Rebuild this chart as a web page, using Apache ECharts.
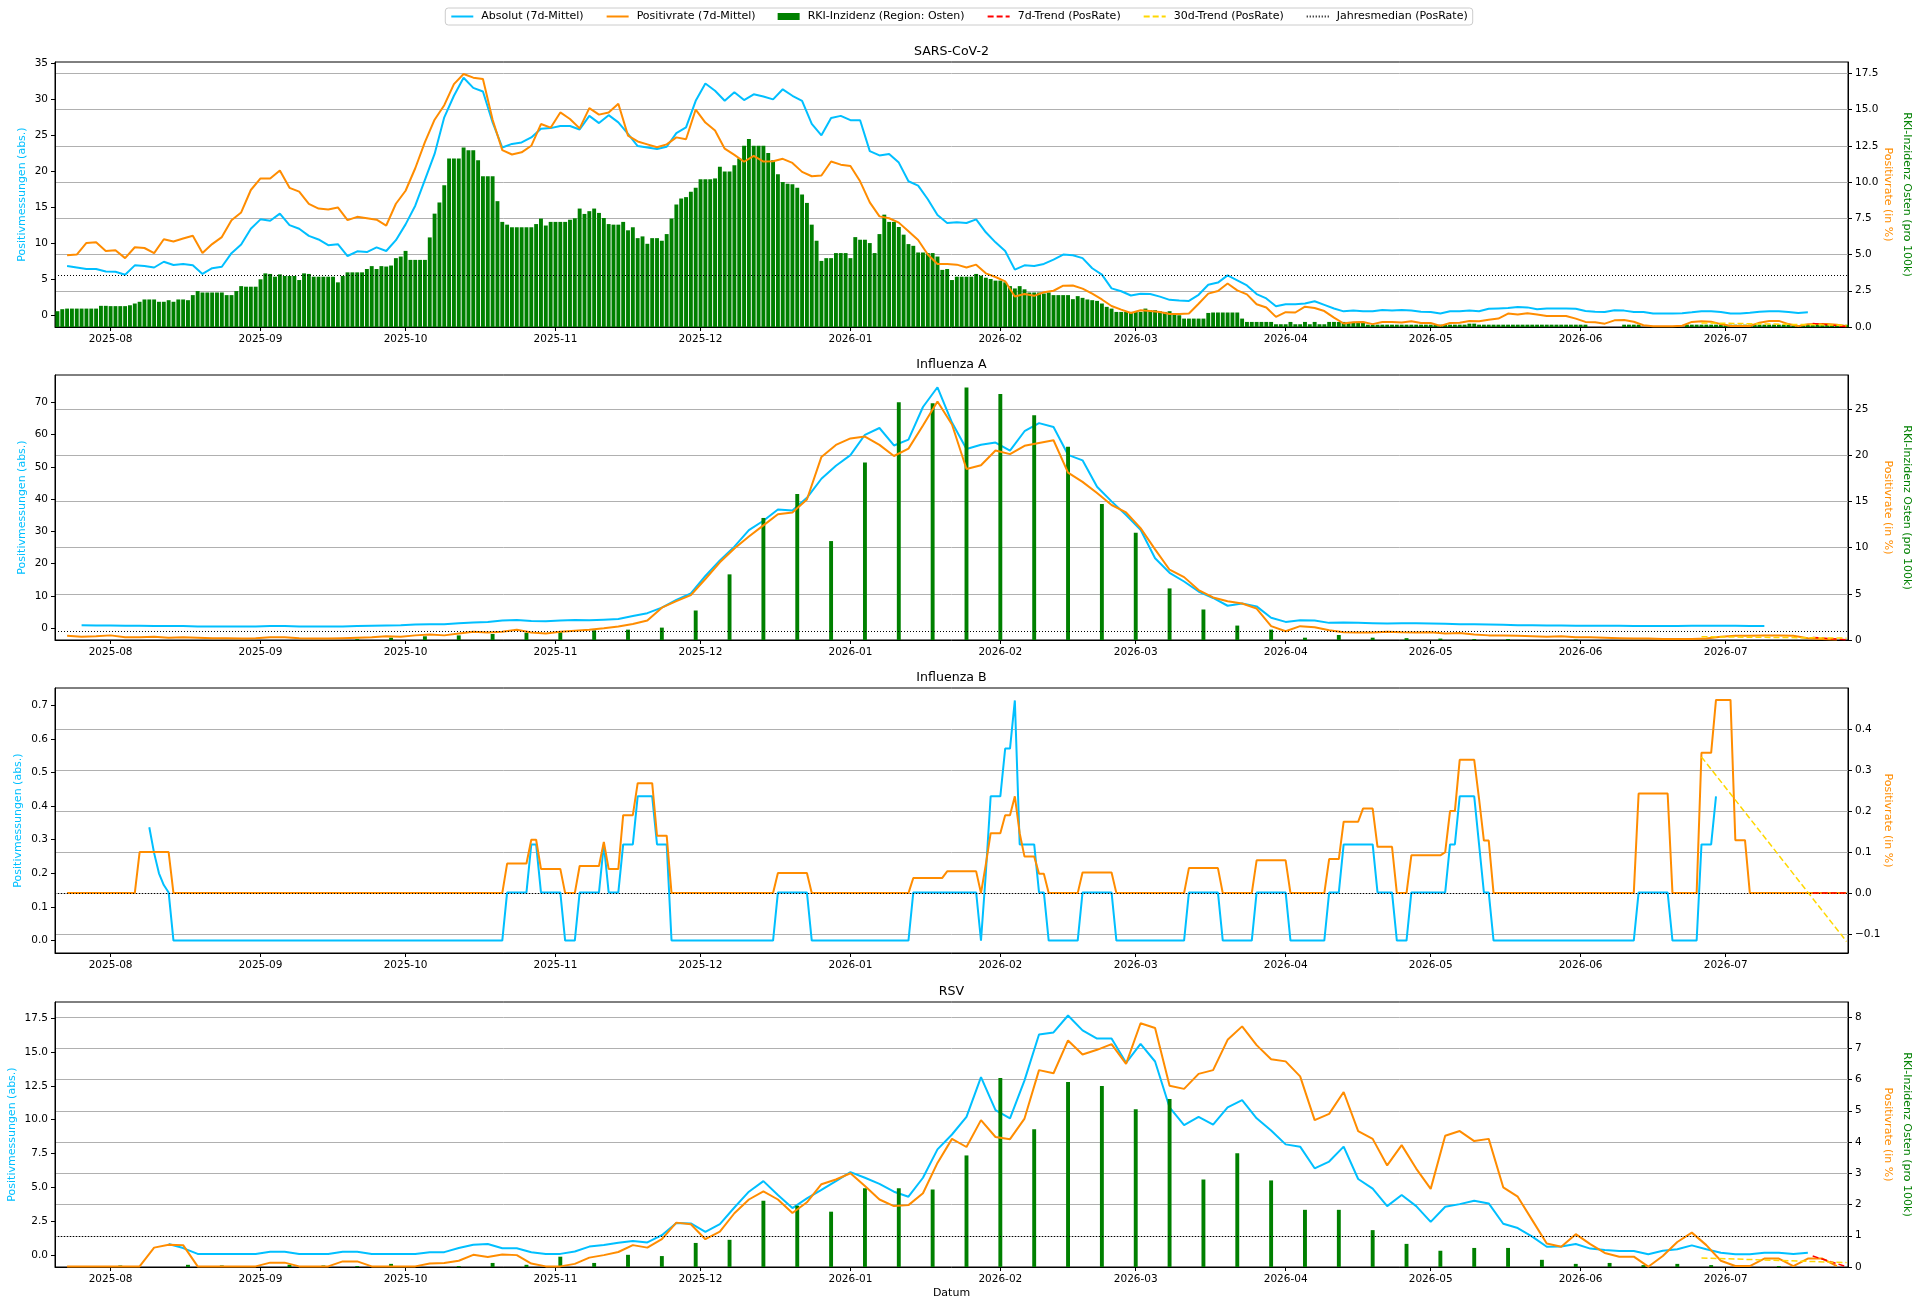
<!DOCTYPE html>
<html lang="de">
<head>
<meta charset="UTF-8">
<title>Positivmessungen Osten</title>
<script src="https://cdn.jsdelivr.net/npm/echarts@6.0.0/dist/echarts.min.js"></script>
<style>
html, body { margin: 0; padding: 0; background: #fff; }
#chart { width: 1918px; height: 1306px; }
</style>
</head>
<body>
<div id="chart"></div>
<script>
// ---- data ----
const DAY = 86400000;
const T0 = Date.UTC(2025, 6, 21);          // day 0 = 2025-07-21
const dayTs = d => T0 + d * DAY;

const monthTicks = ['2025-08', '2025-09', '2025-10', '2025-11', '2025-12', '2026-01',
  '2026-02', '2026-03', '2026-04', '2026-05', '2026-06', '2026-07'];

// 7d means: first sample on day 2 (2025-07-23); SARS read every 2 days, the rest every 3 days
const lineStart = 2;
const sarsStep = 2;
const lineStep = 3;

const sarsAbs = [6.8, 6.6, 6.4, 6.4, 6.05, 6.0, 5.6, 6.9, 6.8, 6.6,
  7.4, 6.95, 7.1, 6.9, 5.7, 6.5, 6.7, 8.6, 9.8, 12.0,
  13.3, 13.1, 14.1, 12.5, 12.0, 11.0, 10.5, 9.7, 9.85, 8.2,
  8.85, 8.75, 9.4, 8.9, 10.4, 12.6, 15.2, 18.8, 22.4, 27.5,
  30.5, 33.0, 31.6, 31.1, 26.8, 23.3, 23.8, 24.0, 24.7, 25.9,
  26.0, 26.3, 26.3, 25.8, 27.7, 26.7, 27.8, 26.8, 25.2, 23.5,
  23.3, 23.1, 23.4, 25.3, 26.1, 29.8, 32.2, 31.2, 29.8, 31.0,
  29.9, 30.7, 30.4, 30.0, 31.4, 30.5, 29.8, 26.6, 25.0, 27.4,
  27.7, 27.1, 27.1, 22.8, 22.2, 22.4, 21.2, 18.6, 18.0, 16.1,
  13.9, 12.8, 12.9, 12.8, 13.3, 11.5, 10.1, 8.9, 6.3, 6.9,
  6.8, 7.1, 7.7, 8.4, 8.3, 7.9, 6.5, 5.6, 3.7, 3.3,
  2.7, 2.95, 2.9, 2.55, 2.1, 2.0, 1.95, 2.8, 4.2, 4.5,
  5.5, 4.8, 4.1, 2.9, 2.3, 1.2, 1.5, 1.5, 1.6, 1.9,
  1.4, 0.9, 0.5, 0.6, 0.5, 0.5, 0.7, 0.6, 0.7, 0.6,
  0.45, 0.42, 0.2, 0.5, 0.5, 0.6, 0.5, 0.85, 0.9, 0.95,
  1.1, 1.05, 0.8, 0.9, 0.9, 0.9, 0.85, 0.55, 0.45, 0.42,
  0.65, 0.6, 0.42, 0.42, 0.2, 0.2, 0.2, 0.25, 0.37, 0.5,
  0.5, 0.42, 0.2, 0.2, 0.3, 0.45, 0.5, 0.5, 0.4, 0.28,
  0.37];
const sarsRate = [4.95, 5.0, 5.8, 5.85, 5.25, 5.3, 4.75, 5.5, 5.45, 5.1,
  6.05, 5.9, 6.1, 6.3, 5.1, 5.72, 6.2, 7.36, 7.9, 9.45,
  10.25, 10.25, 10.8, 9.6, 9.34, 8.5, 8.17, 8.1, 8.25, 7.37,
  7.6, 7.5, 7.4, 7.0, 8.5, 9.4, 10.95, 12.75, 14.3, 15.3,
  16.75, 17.45, 17.2, 17.1, 14.3, 12.2, 11.9, 12.05, 12.5, 14.0,
  13.75, 14.8, 14.35, 13.7, 15.1, 14.65, 14.8, 15.4, 13.2, 12.8,
  12.6, 12.4, 12.6, 13.08, 12.95, 15.0, 14.1, 13.55, 12.3, 11.87,
  11.4, 11.8, 11.41, 11.43, 11.6, 11.32, 10.7, 10.4, 10.45, 11.42,
  11.2, 11.1, 10.05, 8.6, 7.63, 7.5, 7.2, 6.6, 6.0, 5.0,
  4.35, 4.35, 4.3, 4.1, 4.3, 3.7, 3.45, 3.15, 2.1, 2.27,
  2.15, 2.4, 2.5, 2.85, 2.86, 2.65, 2.3, 1.9, 1.45, 1.2,
  0.97, 1.16, 1.1, 1.04, 0.9, 0.9, 0.93, 1.6, 2.3, 2.48,
  3.0, 2.53, 2.25, 1.57, 1.35, 0.7, 1.02, 1.0, 1.4, 1.31,
  1.1, 0.65, 0.24, 0.33, 0.35, 0.2, 0.35, 0.35, 0.31, 0.4,
  0.28, 0.28, 0.08, 0.28, 0.3, 0.42, 0.4, 0.5, 0.58, 0.93,
  0.87, 0.95, 0.86, 0.76, 0.76, 0.76, 0.58, 0.35, 0.32, 0.23,
  0.46, 0.48, 0.36, 0.12, 0.05, 0.05, 0.05, 0.09, 0.35, 0.39,
  0.37, 0.2, 0.07, 0.07, 0.07, 0.3, 0.42, 0.42, 0.2, 0.06,
  0.19, 0.2, 0.2, 0.15, 0.05];
// daily RKI incidence as [value, number of days], from day 0
const sarsIncRuns = [[1.09,1],[1.23,1],[1.27,7],[1.46,2],[1.44,4],[1.5,1],[1.62,1],[1.74,1],[1.9,3],[1.74,2],
  [1.85,1],[1.74,1],[1.9,2],[1.85,1],[2.2,1],[2.48,1],[2.38,5],[2.2,2],[2.48,1],[2.82,1],[2.78,3],[3.29,1],
  [3.7,1],[3.66,1],[3.47,1],[3.63,1],[3.52,3],[3.24,1],[3.7,1],[3.66,1],[3.47,5],[3.08,1],[3.52,1],[3.77,4],
  [4.0,1],[4.2,1],[4.0,1],[4.2,1],[4.17,1],[4.24,1],[4.75,1],[4.86,1],[5.25,1],[4.63,4],[6.18,1],[7.82,1],
  [8.59,1],[9.77,1],[11.62,3],[12.38,1],[12.2,2],[11.5,1],[10.4,3],[8.68,1],[7.25,1],[7.06,1],[6.88,5],
  [7.1,1],[7.48,1],[7.0,1],[7.25,4],[7.4,1],[7.5,1],[8.17,1],[7.8,1],[7.99,1],[8.17,1],[7.87,1],[7.52,1],
  [7.1,1],[7.06,2],[7.25,1],[6.67,1],[6.88,1],[6.13,1],[6.25,1],[5.74,1],[6.13,2],[5.95,1],[6.41,1],
  [7.48,1],[8.45,1],[8.87,1],[8.96,1],[9.33,1],[9.6,1],[10.19,3],[10.25,1],[11.06,1],[10.72,2],[11.16,1],
  [11.62,1],[12.5,1],[12.96,1],[12.5,3],[12.0,1],[11.5,1],[10.53,1],[10.0,1],[9.88,1],[9.84,1],[9.6,1],
  [9.14,1],[8.56,1],[7.06,1],[5.95,1],[4.56,1],[4.75,2],[5.1,3],[4.75,1],[6.2,1],[6.02,2],[5.79,1],[5.1,1],
  [6.41,1],[7.75,1],[7.25,2],[6.9,1],[6.37,1],[5.72,1],[5.6,1],[5.14,2],[5.1,2],[4.86,1],[3.94,1],[4.0,1],
  [3.24,1],[3.47,4],[3.66,1],[3.54,1],[3.4,1],[3.31,1],[3.2,2],[3.08,1],[2.82,1],[2.66,1],[2.82,1],[2.6,1],
  [2.38,3],[2.31,1],[2.38,1],[2.2,4],[1.92,1],[2.13,1],[2.01,1],[1.9,1],[1.85,1],[1.8,1],[1.62,1],[1.39,1],
  [1.27,1],[1.04,6],[1.27,1],[1.16,2],[1.09,1],[1.04,1],[1.09,1],[0.88,1],[0.81,1],[0.58,5],[0.97,1],
  [1.0,6],[0.58,1],[0.35,6],[0.19,3],[0.35,1],[0.19,2],[0.35,1],[0.19,1],[0.35,1],[0.19,2],[0.35,8],
  [0.16,21],[0.23,2],[0.16,23],[0,7],[0.16,4],[0,9],[0.16,22],[0.1,3],[0.15,9]];

const fluAAbs = [null, 1.0, 0.9, 0.9, 0.8, 0.8, 0.7, 0.7, 0.7, 0.6,
  0.6, 0.6, 0.6, 0.6, 0.7, 0.7, 0.6, 0.6, 0.6, 0.6,
  0.7, 0.8, 0.9, 1.0, 1.2, 1.3, 1.3, 1.6, 1.8, 2.0,
  2.4, 2.6, 2.3, 2.2, 2.4, 2.6, 2.5, 2.7, 2.9, 3.8,
  4.7, 6.4, 8.8, 10.8, 16.2, 21.0, 25.3, 30.4, 33.3, 36.8,
  36.5, 40.4, 46.3, 50.3, 53.6, 59.9, 62.0, 56.6, 58.4, 68.5,
  74.6, 63.7, 55.5, 56.8, 57.5, 55.0, 61.0, 63.5, 62.3, 53.7,
  52.0, 43.8, 39.3, 35.1, 30.5, 21.7, 17.2, 14.5, 11.4, 9.4,
  7.0, 7.7, 6.8, 3.3, 2.0, 2.5, 2.4, 1.7, 1.8, 1.7,
  1.6, 1.5, 1.6, 1.55, 1.5, 1.4, 1.3, 1.3, 1.2, 1.1,
  1.0, 1.0, 0.9, 0.9, 0.8, 0.8, 0.8, 0.8, 0.7, 0.7,
  0.7, 0.7, 0.8, 0.8, 0.8, 0.8, 0.7, 0.7];
const fluARate = [0.45, 0.35, 0.4, 0.5, 0.3, 0.3, 0.35, 0.25, 0.3, 0.25,
  0.2, 0.2, 0.15, 0.2, 0.3, 0.3, 0.2, 0.15, 0.15, 0.2,
  0.25, 0.3, 0.4, 0.35, 0.5, 0.6, 0.5, 0.7, 0.9, 0.8,
  0.9, 1.1, 0.8, 0.7, 0.9, 1.0, 1.1, 1.27, 1.45, 1.74,
  2.1, 3.5, 4.2, 4.85, 6.6, 8.4, 9.9, 11.2, 12.4, 13.6,
  13.8, 15.2, 19.8, 21.1, 21.8, 22.0, 21.1, 19.9, 20.7, 23.2,
  25.8, 23.3, 18.5, 18.9, 20.5, 20.1, 21.0, 21.3, 21.6, 18.1,
  17.1, 15.9, 14.6, 13.8, 12.1, 9.8, 7.6, 6.8, 5.4, 4.6,
  4.2, 3.95, 3.4, 1.5, 0.95, 1.5, 1.38, 1.05, 0.85, 0.8,
  0.8, 0.9, 0.83, 0.8, 0.85, 0.7, 0.75, 0.6, 0.5, 0.5,
  0.45, 0.4, 0.35, 0.4, 0.3, 0.3, 0.25, 0.2, 0.15, 0.15,
  0.1, 0.1, 0.1, 0.15, 0.35, 0.45, 0.45, 0.5, 0.5, 0.45,
  0.2, 0.1, 0.05];
// weekly RKI incidence, first bar on day 6, one per 7 days
const weeklyStart = 6;
const fluAInc = [0, 0, 0, 0, 0, 0, 0, 0, 0.1, 0.25,
  0.4, 0.5, 0.65, 0.8, 0.9, 1.05, 1.12, 1.34, 3.19, 7.1,
  13.2, 15.8, 10.7, 19.2, 25.7, 25.6, 27.3, 26.6, 24.3, 20.9,
  14.7, 11.6, 5.58, 3.3, 1.56, 1.12, 0.25, 0.54, 0.25, 0.2,
  0.15, 0.1, 0.1, 0, 0.05, 0, 0, 0, 0, 0, 0, 0, 0];

// Influenza B is step-like: daily values as [value, number of days]
const fluBAbsStart = 19;
const fluBAbsRuns = [[0.337,1],[0.26,1],[0.2,1],[0.165,1],[0.143,1],[0,69],[0.143,5],[0.286,2],[0.143,5],[0,3],
  [0.143,5],[0.286,1],[0.143,3],[0.286,3],[0.429,4],[0.286,3],[0,22],[0.143,7],[0,21],[0.143,14],[0,1],
  [0.2,1],[0.429,3],[0.571,2],[0.714,1],[0.286,4],[0.143,2],[0,7],[0.143,7],[0,15],[0.143,7],[0,7],
  [0.143,7],[0,8],[0.143,3],[0.286,7],[0.143,4],[0,3],[0.143,8],[0.286,2],[0.429,4],[0.286,1],[0.143,2],
  [0,30],[0.143,7],[0,6],[0.286,3],[0.429,1]];
const fluBRateStart = 2;
const fluBRateRuns = [[0,15],[0.1,7],[0,69],[0.072,5],[0.13,2],[0.059,5],[0,3],[0.066,5],[0.125,1],[0.059,3],
  [0.19,3],[0.268,4],[0.14,3],[0,22],[0.049,7],[0,21],[0.037,7],[0.053,7],[0,1],[0.07,1],[0.146,3],
  [0.19,2],[0.236,1],[0.146,1],[0.089,3],[0.047,2],[0,7],[0.05,7],[0,15],[0.061,7],[0,7],[0.08,7],[0,8],
  [0.083,3],[0.174,4],[0.206,3],[0.113,4],[0,3],[0.092,7],[0.1,1],[0.2,2],[0.325,4],[0.23,1],[0.128,2],
  [0,30],[0.243,7],[0,6],[0.342,3],[0.471,4],[0.129,3],[0,21]];

const rsvAbs = [null, null, null, null, null, null, null, 0.8, 0.5, 0.07,
  0.07, 0.07, 0.07, 0.07, 0.22, 0.22, 0.07, 0.07, 0.07, 0.22,
  0.22, 0.07, 0.07, 0.07, 0.07, 0.19, 0.2, 0.5, 0.75, 0.8,
  0.49, 0.49, 0.19, 0.07, 0.07, 0.25, 0.61, 0.72, 0.9, 1.03,
  0.92, 1.45, 2.35, 2.32, 1.7, 2.27, 3.5, 4.67, 5.45, 4.42,
  3.46, 4.17, 4.8, 5.45, 6.12, 5.7, 5.25, 4.67, 4.3, 5.7,
  7.8, 8.9, 10.2, 13.15, 10.7, 10.1, 12.9, 16.3, 16.45, 17.7,
  16.6, 16.0, 16.0, 14.2, 15.6, 14.3, 10.9, 9.6, 10.2, 9.63,
  10.9, 11.44, 10.1, 9.2, 8.17, 8.0, 6.4, 6.9, 8.0, 5.61,
  4.9, 3.6, 4.42, 3.6, 2.44, 3.56, 3.75, 4.0, 3.8, 2.3,
  1.98, 1.35, 0.6, 0.61, 0.8, 0.46, 0.35, 0.29, 0.29, 0.04,
  0.3, 0.41, 0.7, 0.41, 0.16, 0.04, 0.04, 0.16, 0.16, 0.06,
  0.16];
const rsvRate = [0.02, 0.02, 0.02, 0.02, 0.02, 0.02, 0.62, 0.71, 0.7, 0.02,
  0.02, 0.02, 0.02, 0.02, 0.14, 0.14, 0.02, 0.02, 0.02, 0.18,
  0.18, 0.02, 0.02, 0.02, 0.02, 0.11, 0.13, 0.2, 0.39, 0.32,
  0.4, 0.38, 0.11, 0.02, 0.02, 0.1, 0.3, 0.38, 0.48, 0.7,
  0.62, 0.89, 1.42, 1.37, 0.89, 1.13, 1.72, 2.16, 2.42, 2.16,
  1.73, 2.07, 2.65, 2.8, 3.0, 2.59, 2.16, 1.95, 1.98, 2.36,
  3.33, 4.1, 3.84, 4.7, 4.16, 4.09, 4.75, 6.3, 6.2, 7.25,
  6.8, 6.95, 7.13, 6.5, 7.8, 7.65, 5.8, 5.7, 6.18, 6.3,
  7.27, 7.7, 7.1, 6.65, 6.58, 6.1, 4.7, 4.9, 5.6, 4.35,
  4.1, 3.25, 3.9, 3.15, 2.5, 4.2, 4.35, 4.03, 4.1, 2.55,
  2.25, 1.5, 0.75, 0.65, 1.05, 0.73, 0.45, 0.33, 0.33, 0.01,
  0.35, 0.8, 1.1, 0.7, 0.2, 0.03, 0.03, 0.27, 0.27, 0.03,
  0.27, 0.27, 0.03];
const rsvInc = [0, 0.05, 0, 0.07, 0.05, 0, 0.07, 0.05, 0.03, 0.1,
  0, 0.03, 0.13, 0.07, 0.33, 0.13, 0.39, 0.35, 0.77, 0.87,
  2.12, 1.96, 1.77, 2.52, 2.52, 2.48, 3.57, 6.05, 4.41, 5.92,
  5.79, 5.05, 5.38, 2.8, 3.64, 2.77, 1.83, 1.83, 1.18, 0.74,
  0.52, 0.61, 0.61, 0.23, 0.1, 0.13, 0.06, 0.1, 0.06, 0, 0.03, 0, 0];

// PosRate reference lines per panel (SARS, Flu A, Flu B, RSV)
const medians = [3.56, 0.9, 0.0, 0.98];
const trend7Days = [363, 370];
const trend30Days = [340, 370];
const trend7 = [[0.25, 0.03], [0.28, 0.03], [0, 0], [0.35, 0.01]];
const trend30 = [[0.28, 0.12], [0.35, 0.2], [0.332, -0.118], [0.29, 0.14]];

// tick labels
const sarsLeftTicks = [0, 5, 10, 15, 20, 25, 30, 35];
const sarsRightTicks = [0, 2.5, 5, 7.5, 10, 12.5, 15, 17.5];
const fluALeftTicks = [0, 10, 20, 30, 40, 50, 60, 70];
const fluARightTicks = [0, 5, 10, 15, 20, 25];
const fluBLeftTicks = [0, 0.1, 0.2, 0.3, 0.4, 0.5, 0.6, 0.7];
const fluBRightTicks = [-0.1, 0, 0.1, 0.2, 0.3, 0.4];
const rsvLeftTicks = [0, 2.5, 5, 7.5, 10, 12.5, 15, 17.5];
const rsvRightTicks = [0, 1, 2, 3, 4, 5, 6, 7, 8];

// ---- helpers ----
function lineData(values, start, step) {
  const out = [];
  values.forEach((v, i) => { if (v !== null) out.push([dayTs(start + step * i), v]); });
  return out;
}
function runData(runs, start) {
  const out = [];
  let d = start;
  runs.forEach(([v, n]) => { for (let k = 0; k < n; k++) out.push([dayTs(d++), v]); });
  return out;
}
function weeklyData(values, start) {
  return values.map((v, k) => [dayTs(start + 7 * k), v]);
}
function fmt(dec) {
  return v => Number(v).toFixed(dec).replace('-', '\u2212');
}

const FONT = 'DejaVu Sans';
const BLUE = '#00bfff', ORANGE = '#ff8c00', GREEN = '#008000';
const N_ABS = 'Absolut (7d-Mittel)';
const N_RATE = 'Positivrate (7d-Mittel)';
const N_INC = 'RKI-Inzidenz (Region: Osten)';
const N_T7 = '7d-Trend (PosRate)';
const N_T30 = '30d-Trend (PosRate)';
const N_MED = 'Jahresmedian (PosRate)';

const GRID_LEFT = 55, GRID_W = 1793, GRID_H = 265;
const tops = [62, 375, 688, 1002];

const panels = [
  { title: 'SARS-CoV-2',
    abs: lineData(sarsAbs, lineStart, sarsStep), rate: lineData(sarsRate, lineStart, sarsStep),
    inc: runData(sarsIncRuns, 0),
    left: { min: -1.68, max: 35.2, ticks: sarsLeftTicks, dec: 0 },
    right: { min: 0, max: 18.28, ticks: sarsRightTicks, dec: 1 }, labelX: 22 },
  { title: 'Influenza A',
    abs: lineData(fluAAbs, lineStart, lineStep), rate: lineData(fluARate, lineStart, lineStep),
    inc: weeklyData(fluAInc, weeklyStart),
    left: { min: -3.6, max: 78.4, ticks: fluALeftTicks, dec: 0 },
    right: { min: 0, max: 28.66, ticks: fluARightTicks, dec: 0 }, labelX: 22 },
  { title: 'Influenza B',
    abs: runData(fluBAbsRuns, fluBAbsStart), rate: runData(fluBRateRuns, fluBRateStart),
    inc: null,
    left: { min: -0.037, max: 0.751, ticks: fluBLeftTicks, dec: 1 },
    right: { min: -0.146, max: 0.5, ticks: fluBRightTicks, dec: 1 }, labelX: 18.5 },
  { title: 'RSV',
    abs: lineData(rsvAbs, lineStart, lineStep), rate: lineData(rsvRate, lineStart, lineStep),
    inc: weeklyData(rsvInc, weeklyStart),
    left: { min: -0.9, max: 18.7, ticks: rsvLeftTicks, dec: 1 },
    right: { min: 0, max: 8.48, ticks: rsvRightTicks, dec: 0 }, labelX: 12 }
];

const monthTs = monthTicks.map(s => Date.UTC(+s.slice(0, 4), +s.slice(5, 7) - 1, 1));
const monthLabel = v => {
  const d = new Date(Number(v));
  return d.getUTCFullYear() + '-' + String(d.getUTCMonth() + 1).padStart(2, '0');
};

const grids = [], xAxes = [], yAxes = [], series = [], graphics = [];

panels.forEach((p, i) => {
  const top = tops[i];
  grids.push({ left: GRID_LEFT, top: top, width: GRID_W, height: GRID_H,
    show: true, borderColor: '#000', borderWidth: 1, backgroundColor: 'transparent' });

  // x as a plain value axis over timestamps so the month ticks can be placed exactly
  xAxes.push({
    type: 'value', gridIndex: i, min: dayTs(-0.5), max: dayTs(370.3),
    axisLine: { show: true, onZero: false, lineStyle: { color: '#000', width: 1 } },
    axisTick: { show: true, length: 4, customValues: monthTs, lineStyle: { color: '#000' } },
    axisLabel: { customValues: monthTs, formatter: monthLabel, color: '#000',
      fontFamily: FONT, fontSize: 10.5, margin: 7, showMinLabel: true, showMaxLabel: true },
    splitLine: { show: false }
  });

  [['left', p.left], ['right', p.right]].forEach(([pos, ax]) => {
    yAxes.push({
      type: 'value', gridIndex: i, position: pos, min: ax.min, max: ax.max,
      axisLine: { show: true, onZero: false, lineStyle: { color: '#000', width: 1 } },
      axisTick: { show: true, length: 4, customValues: ax.ticks, lineStyle: { color: '#000' } },
      axisLabel: { customValues: ax.ticks, formatter: fmt(ax.dec), color: '#000',
        fontFamily: FONT, fontSize: 10.5, margin: 7, showMinLabel: true, showMaxLabel: true },
      splitLine: { show: pos === 'right', lineStyle: { color: '#b0b0b0', width: 1 } }
    });
  });

  const yl = 2 * i, yr = 2 * i + 1;
  series.push({ type: 'line', name: N_ABS, xAxisIndex: i, yAxisIndex: yl, data: p.abs,
    symbol: 'none', lineStyle: { color: BLUE, width: 2 }, itemStyle: { color: BLUE }, z: 2 });
  if (p.inc) {
    series.push({ type: 'bar', name: N_INC, xAxisIndex: i, yAxisIndex: yr, data: p.inc,
      barWidth: 3.9, itemStyle: { color: GREEN }, z: 3 });
  }
  series.push({ type: 'line', name: N_RATE, xAxisIndex: i, yAxisIndex: yr, data: p.rate,
    symbol: 'none', lineStyle: { color: ORANGE, width: 2 }, itemStyle: { color: ORANGE }, z: 4 });
  series.push({ type: 'line', name: N_T7, xAxisIndex: i, yAxisIndex: yr,
    data: trend7Days.map((d, k) => [dayTs(d), trend7[i][k]]),
    symbol: 'none', lineStyle: { color: '#ff0000', width: 1.5, type: [6, 3] }, itemStyle: { color: '#ff0000' }, z: 5 });
  series.push({ type: 'line', name: N_T30, xAxisIndex: i, yAxisIndex: yr,
    data: trend30Days.map((d, k) => [dayTs(d), trend30[i][k]]),
    symbol: 'none', lineStyle: { color: '#ffd700', width: 1.5, type: [6, 3] }, itemStyle: { color: '#ffd700' }, z: 5 });
  series.push({ type: 'line', name: N_MED, xAxisIndex: i, yAxisIndex: yr, data: [],
    symbol: 'none', lineStyle: { color: '#000', width: 1, type: [1, 2] }, itemStyle: { color: '#000' }, z: 5,
    markLine: { silent: true, symbol: ['none', 'none'], label: { show: false },
      lineStyle: { color: '#000', width: 1, type: [1, 2] }, emphasis: { disabled: true },
      data: [{ yAxis: medians[i] }] } });

  // titles and axis names
  const midX = GRID_LEFT + GRID_W / 2, midY = top + GRID_H / 2;
  graphics.push({ type: 'text', x: midX, y: top - 10,
    style: { text: p.title, fill: '#000', fontFamily: FONT, fontSize: 12.6, align: 'center', verticalAlign: 'middle' } });
  graphics.push({ type: 'text', x: p.labelX, y: midY, rotation: Math.PI / 2,
    style: { text: 'Positivmessungen (abs.)', fill: BLUE, fontFamily: FONT, fontSize: 11, align: 'center', verticalAlign: 'middle' } });
  graphics.push({ type: 'text', x: 1888, y: midY, rotation: -Math.PI / 2,
    style: { text: 'Positivrate (in %)', fill: ORANGE, fontFamily: FONT, fontSize: 11, align: 'center', verticalAlign: 'middle' } });
  if (p.inc) {
    graphics.push({ type: 'text', x: 1907, y: midY, rotation: -Math.PI / 2,
      style: { text: 'RKI-Inzidenz Osten (pro 100k)', fill: GREEN, fontFamily: FONT, fontSize: 11, align: 'center', verticalAlign: 'middle' } });
  }
});

graphics.push({ type: 'text', x: GRID_LEFT + GRID_W / 2, y: 1293,
  style: { text: 'Datum', fill: '#000', fontFamily: FONT, fontSize: 11, align: 'center', verticalAlign: 'middle' } });

// legend: line entries without the default marker dot
const noDot = { opacity: 0 };
const chart = echarts.init(document.getElementById('chart'), null, { renderer: 'canvas' });
chart.setOption({
  animation: false,
  backgroundColor: '#fff',
  textStyle: { fontFamily: FONT },
  legend: {
    top: 8, left: 'center', selectedMode: false,
    itemWidth: 22, itemHeight: 7, itemGap: 22,
    padding: [3, 5], borderColor: '#cccccc', borderWidth: 1, borderRadius: 3,
    backgroundColor: 'rgba(255,255,255,0.8)',
    textStyle: { fontFamily: FONT, fontSize: 11, color: '#000', padding: [0, 0, 0, 3] },
    data: [
      { name: N_ABS, itemStyle: noDot },
      { name: N_RATE, itemStyle: noDot },
      { name: N_INC, icon: 'rect' },
      { name: N_T7, itemStyle: noDot },
      { name: N_T30, itemStyle: noDot },
      { name: N_MED, itemStyle: noDot }
    ]
  },
  grid: grids,
  xAxis: xAxes,
  yAxis: yAxes,
  series: series,
  graphic: graphics
});
window.addEventListener('resize', () => chart.resize());
</script>
</body>
</html>
